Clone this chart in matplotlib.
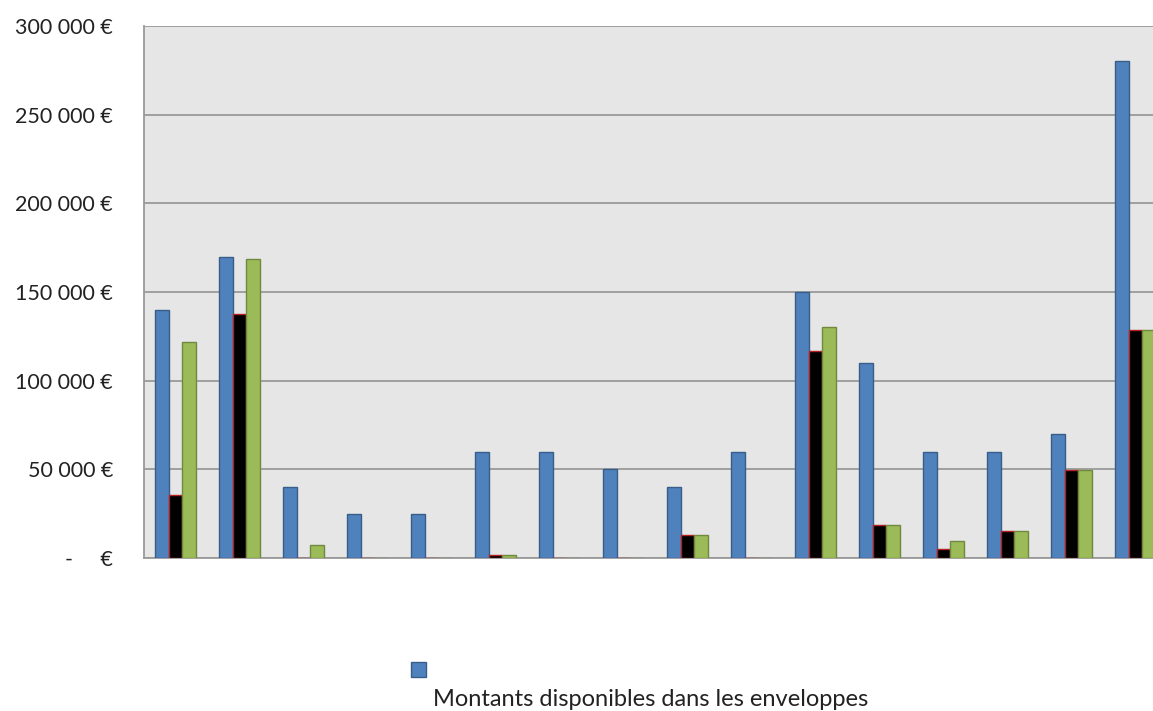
import numpy as np
import matplotlib.pyplot as plt
from matplotlib.patches import Rectangle

plt.rcParams['font.family'] = ['Lato', 'DejaVu Sans']

# valeurs
groupes = list(range(16))
disponibles = [140000, 170000, 40000, 25000, 25000, 60000, 60000, 50000,
               40000, 60000, 150000, 110000, 60000, 60000, 70000, 280000]
engages = [35500, 137500, 0, 0, 0, 1500, 0, 0,
           13000, 0, 117000, 18700, 5000, 15200, 49500, 128500]
payes = [122000, 168500, 7500, 0, 0, 1500, 0, 0,
         13000, 0, 130000, 18700, 9800, 15200, 49500, 128500]
yticks = [0, 50000, 100000, 150000, 200000, 250000, 300000]
ylabels = ["-     €", "50 000 €", "100 000 €", "150 000 €",
           "200 000 €", "250 000 €", "300 000 €"]

fig = plt.figure(figsize=(11.53, 7.11), dpi=100)
W, H = 1153, 711
ax = fig.add_axes([143.5 / W, 1 - 558 / H, 1024 / W, (558 - 26) / H])
ax.set_facecolor("#E6E6E6")

x = np.array(groupes)
w = 0.215
ax.bar(x - w, disponibles, w, color="#4F81BD", edgecolor="#385D8A", linewidth=1, zorder=3)
ax.bar(x, engages, w, color="black", edgecolor="#B22222", linewidth=1, zorder=3)
ax.bar(x + w, payes, w, color="#9BBB59", edgecolor="#71893F", linewidth=1, zorder=3)

ax.set_xlim(-0.5, 15.5)
ax.set_ylim(0, 300000)
ax.set_yticks(yticks)
ax.set_yticklabels(ylabels, fontsize=15.5, color="#222222")
ax.set_xticks([])
ax.tick_params(axis="y", length=0, pad=22)
ax.yaxis.grid(True, color="#9A9A9A", linewidth=1.3, zorder=0)
ax.set_axisbelow(True)
for s in ["top", "right"]:
    ax.spines[s].set_visible(False)
for s in ["left", "bottom"]:
    ax.spines[s].set_color("#9A9A9A")
    ax.spines[s].set_linewidth(1.3)

# légende (seule la première entrée est visible)
fig.patches.append(Rectangle((411 / W, 1 - 677 / H), 15 / W, 15 / H,
                             transform=fig.transFigure, facecolor="#4F81BD",
                             edgecolor="#385D8A", linewidth=1))
fig.text(651 / W, 1 - 700 / H, "Montants disponibles dans les enveloppes",
         ha="center", va="center", fontsize=17, color="#222222")

fig.savefig("out.png", dpi=100)
